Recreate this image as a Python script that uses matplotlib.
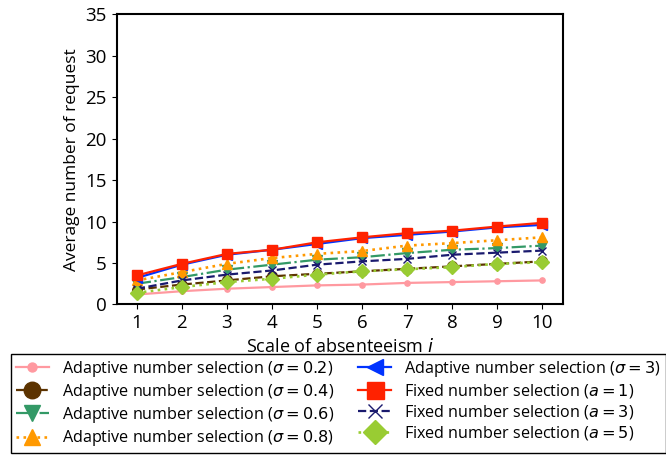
import numpy as np
import matplotlib
matplotlib.use("Agg")
import matplotlib.pyplot as plt

plt.rcParams['font.family'] = ['Open Sans', 'DejaVu Sans']
plt.rcParams['mathtext.fontset'] = 'dejavusans'

# Data
scale = [1, 2, 3, 4, 5, 6, 7, 8, 9, 10]

adaptive_02 = [1.2, 1.6, 1.9, 2.1, 2.3, 2.4, 2.6, 2.7, 2.8, 2.9]
adaptive_04 = [1.8, 2.4, 2.9, 3.4, 3.7, 4.0, 4.3, 4.6, 4.9, 5.2]
adaptive_06 = [2.5, 3.3, 4.2, 4.8, 5.4, 5.7, 6.2, 6.6, 6.8, 7.1]
adaptive_08 = [2.9, 3.9, 4.9, 5.6, 6.1, 6.45, 7.1, 7.4, 7.75, 8.1]
adaptive_3 = [3.2, 4.8, 6.0, 6.6, 7.3, 8.0, 8.4, 8.8, 9.3, 9.6]
fixed_1 = [3.5, 4.9, 6.1, 6.6, 7.5, 8.1, 8.6, 8.9, 9.4, 9.85]
fixed_3 = [1.9, 2.9, 3.6, 4.1, 4.8, 5.2, 5.5, 6.0, 6.25, 6.5]
fixed_5 = [1.4, 2.1, 2.7, 3.1, 3.6, 4.0, 4.25, 4.5, 4.9, 5.1]

labels = [
    r'Adaptive number selection ($\sigma=0.2$)',
    r'Adaptive number selection ($\sigma=0.4$)',
    r'Adaptive number selection ($\sigma=0.6$)',
    r'Adaptive number selection ($\sigma=0.8$)',
    r'Adaptive number selection ($\sigma=3$)',
    r'Fixed number selection ($a=1$)',
    r'Fixed number selection ($a=3$)',
    r'Fixed number selection ($a=5$)',
]

fig = plt.figure(figsize=(6.66, 4.62), dpi=100)
ax = fig.add_axes([0.175, 0.341, 0.670, 0.628])

ax.plot(scale, adaptive_02, color='#ff99a0', linestyle='-', marker='o', markersize=3.8, lw=1.6, label=labels[0])
ax.plot(scale, adaptive_04, color='#5c3300', linestyle='--', marker='o', markersize=7, lw=1.6, label=labels[1])
ax.plot(scale, adaptive_06, color='#339966', linestyle='-.', marker='v', markersize=7, lw=1.6, label=labels[2])
ax.plot(scale, adaptive_08, color='#ff9900', linestyle=':', marker='^', markersize=7, lw=1.9, label=labels[3])
ax.plot(scale, adaptive_3, color='#0033ff', linestyle='-', marker='<', markersize=7, lw=1.6, label=labels[4])
ax.plot(scale, fixed_1, color='#ff2200', linestyle='-', marker='s', markersize=7.2, lw=1.6, label=labels[5])
ax.plot(scale, fixed_3, color='#1a1a6e', linestyle='--', marker='x', markersize=6, lw=1.6, label=labels[6])
ax.plot(scale, fixed_5, color='#99cc33', linestyle=':', marker='D', markersize=7, lw=1.9, label=labels[7])

ax.set_ylim(0, 35)
ax.set_xticks(scale)
ax.tick_params(labelsize=13.5)
ax.set_xlabel('Scale of absenteeism $i$', fontsize=13)
ax.set_ylabel('Average number of request', fontsize=12.5)
for s in ax.spines.values():
    s.set_linewidth(1.5)

fig.legend(loc='lower center', bbox_to_anchor=(0.508, 0.002), ncol=2, fontsize=11.6,
           fancybox=False, edgecolor='black', framealpha=1, handlelength=2.05,
           handletextpad=0.8, columnspacing=1.5, labelspacing=0.19,
           markerscale=1.7, borderpad=0.3)

fig.savefig('out.png', dpi=100)
